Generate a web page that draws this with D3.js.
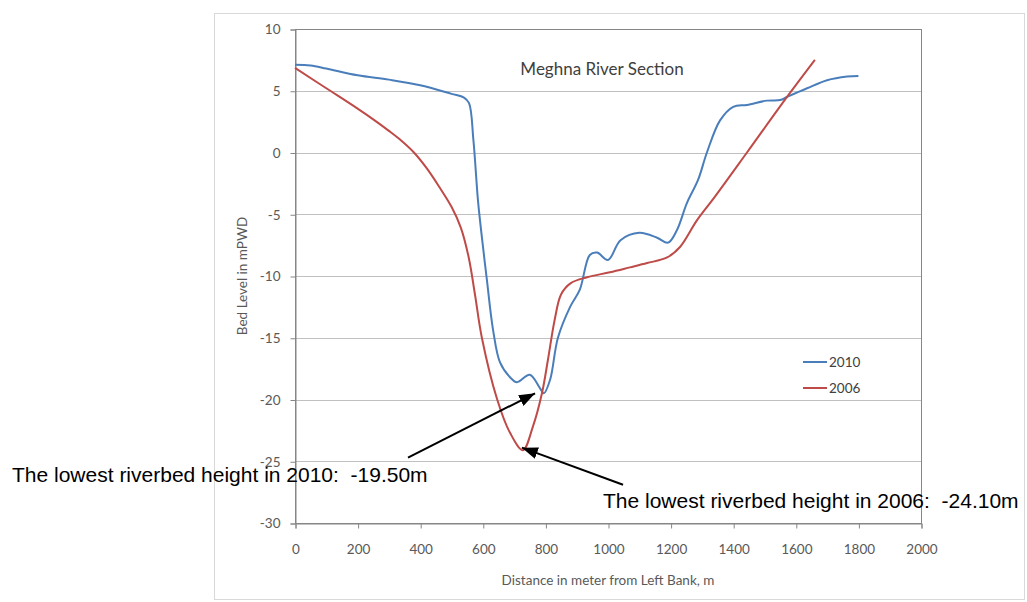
<!DOCTYPE html>
<html>
<head>
<meta charset="utf-8">
<script src="https://cdn.jsdelivr.net/npm/d3@7"></script>
<style>
  body { margin: 0; background: #fff; }
</style>
</head>
<body>
<div id="canvas"></div>
<script>
// Meghna River Section - bed level in 2010 and 2006

const dist2010 = [0, 50, 100, 200, 300, 400, 500, 540, 556, 570, 585, 600, 613, 633, 655, 687, 709, 750, 783, 795, 815, 840, 879, 910, 942, 965, 1000, 1040, 1100, 1157, 1192, 1220, 1252, 1288, 1316, 1358, 1400, 1444, 1508, 1550, 1572, 1636, 1700, 1764, 1800];
const level2010 = [7.1, 7.05, 6.8, 6.25, 5.9, 5.45, 4.75, 4.45, 4.0, 1.0, -4.0, -7.5, -10.3, -14.4, -17.0, -18.2, -18.6, -18.0, -19.1, -19.5, -18.4, -15.0, -12.5, -11.1, -8.3, -8.1, -8.7, -7.1, -6.5, -6.9, -7.3, -6.3, -4.1, -2.2, 0.0, 2.6, 3.7, 3.85, 4.2, 4.25, 4.5, 5.2, 5.85, 6.15, 6.2];

const dist2006 = [0, 100, 200, 260, 300, 340, 380, 420, 460, 500, 530, 555, 575, 597, 646, 687, 728, 760, 789, 808, 830, 850, 880, 933, 1006, 1070, 1125, 1189, 1230, 1284, 1335, 1444, 1572, 1661];
const level2006 = [6.85, 5.2, 3.55, 2.5, 1.75, 0.95, 0.0, -1.25, -2.75, -4.4, -6.1, -8.5, -11.5, -15.0, -20.0, -22.7, -24.1, -22.2, -19.5, -16.8, -13.5, -11.5, -10.6, -10.1, -9.7, -9.3, -8.95, -8.5, -7.65, -5.5, -3.8, 0.0, 4.5, 7.5];

const seriesNames = ["2010", "2006"];
const seriesColors = ["#4a7ebb", "#be4b48"];

const xTicks = [0, 200, 400, 600, 800, 1000, 1200, 1400, 1600, 1800, 2000];
const yTicks = [10, 5, 0, -5, -10, -15, -20, -25, -30];

const chartTitle = "Meghna River Section";
const xTitle = "Distance in meter from Left Bank, m";
const yTitle = "Bed Level in mPWD";

// annotations: arrow from (x0,y0) to (x1,y1) in data units
const noteTexts = ["The lowest riverbed height in 2010:  -19.50m", "The lowest riverbed height in 2006:  -24.10m"];
const noteArrows = [
    { x0: 361, y0: -24.7, x1: 767, y1: -19.5 },
    { x0: 1048, y0: -26.9, x1: 725, y1: -23.9 }
];

const width = 1027;
const height = 602;
const plot = { left: 295, right: 921, top: 29, bottom: 523 };

const svg = d3.select("#canvas").append("svg")
    .attr("width", width)
    .attr("height", height)
    .style("display", "block");

// outer chart frame
svg.append("rect")
    .attr("x", 214.5)
    .attr("y", 13.5)
    .attr("width", 810)
    .attr("height", 586)
    .attr("fill", "#fff")
    .attr("stroke", "#d9d9d9");

const x = d3.scaleLinear()
    .domain([0, 2000])
    .range([plot.left, plot.right]);

const y = d3.scaleLinear()
    .domain([-30, 10])
    .range([plot.bottom, plot.top]);

// gridlines
svg.append("g")
    .selectAll("line")
    .data(yTicks)
    .join("line")
    .attr("x1", plot.left)
    .attr("x2", plot.right)
    .attr("y1", d => Math.round(y(d)) + 0.5)
    .attr("y2", d => Math.round(y(d)) + 0.5)
    .attr("stroke", "#c0c0c0");

// plot area border
svg.append("rect")
    .attr("x", plot.left + 0.5)
    .attr("y", Math.round(y(10)) + 0.5)
    .attr("width", plot.right - plot.left)
    .attr("height", Math.round(y(-30)) - Math.round(y(10)))
    .attr("fill", "none")
    .attr("stroke", "#868686");

const tickFont = "Lato, 'Open Sans', sans-serif";

// y axis
const yAxis = svg.append("g")
    .attr("transform", `translate(${plot.left + 0.5},0.5)`)
    .call(d3.axisLeft(y).tickValues(yTicks).tickSize(5).tickPadding(10).tickFormat(d => String(d)));
yAxis.select(".domain").attr("stroke", "#868686");
yAxis.selectAll(".tick line").attr("stroke", "#868686");
yAxis.selectAll("text")
    .style("font-family", tickFont)
    .style("font-size", "13.5px")
    .attr("fill", "#595959");

// x axis
const xAxis = svg.append("g")
    .attr("transform", `translate(0.5,${Math.round(y(-30)) + 0.5})`)
    .call(d3.axisBottom(x).tickValues(xTicks).tickSize(5).tickPadding(16).tickFormat(d => String(d)));
xAxis.select(".domain").attr("stroke", "#868686");
xAxis.selectAll(".tick line").attr("stroke", "#868686");
xAxis.selectAll("text")
    .style("font-family", tickFont)
    .style("font-size", "13.5px")
    .attr("fill", "#595959");

// axis titles
svg.append("text")
    .attr("x", (plot.left + plot.right) / 2)
    .attr("y", 585)
    .attr("text-anchor", "middle")
    .style("font-family", tickFont)
    .style("font-size", "13.5px")
    .attr("fill", "#595959")
    .text(xTitle);

svg.append("text")
    .attr("transform", `translate(247,276) rotate(-90)`)
    .attr("text-anchor", "middle")
    .style("font-family", tickFont)
    .style("font-size", "13.5px")
    .attr("fill", "#595959")
    .text(yTitle);

// chart title
svg.append("text")
    .attr("x", 602)
    .attr("y", 75)
    .attr("text-anchor", "middle")
    .style("font-family", tickFont)
    .style("font-size", "17px")
    .attr("fill", "#404040")
    .text(chartTitle);

// lines
const line = d3.line()
    .x(d => x(d[0]))
    .y(d => y(d[1]))
    .curve(d3.curveCatmullRom.alpha(0.5));

const series = [
    d3.zip(dist2010, level2010),
    d3.zip(dist2006, level2006)
];

svg.append("g")
    .selectAll("path")
    .data(series)
    .join("path")
    .attr("d", line)
    .attr("fill", "none")
    .attr("stroke", (d, i) => seriesColors[i])
    .attr("stroke-width", 2)
    .attr("stroke-linejoin", "round");

// legend
const legend = svg.append("g")
    .selectAll("g")
    .data(seriesNames)
    .join("g")
    .attr("transform", (d, i) => `translate(803,${362 + i * 26})`);

legend.append("line")
    .attr("x1", 0)
    .attr("x2", 24)
    .attr("stroke", (d, i) => seriesColors[i])
    .attr("stroke-width", 2);

legend.append("text")
    .attr("x", 26)
    .attr("dy", "0.35em")
    .style("font-family", tickFont)
    .style("font-size", "13.5px")
    .attr("fill", "#404040")
    .text(d => d);

// annotations
svg.append("defs").append("marker")
    .attr("id", "arrow")
    .attr("markerUnits", "userSpaceOnUse")
    .attr("viewBox", "0 0 16 12")
    .attr("refX", 16)
    .attr("refY", 6)
    .attr("markerWidth", 16)
    .attr("markerHeight", 12)
    .attr("orient", "auto")
    .append("path")
    .attr("d", "M0,0 L16,6 L0,12 Z")
    .attr("fill", "#000");

svg.append("g")
    .selectAll("line")
    .data(noteArrows)
    .join("line")
    .attr("x1", d => x(d.x0))
    .attr("y1", d => y(d.y0))
    .attr("x2", d => x(d.x1))
    .attr("y2", d => y(d.y1))
    .attr("stroke", "#000")
    .attr("stroke-width", 2)
    .attr("marker-end", "url(#arrow)");

const notePos = [[12, 482], [603, 508]];

svg.append("g")
    .selectAll("text")
    .data(noteTexts)
    .join("text")
    .attr("x", (d, i) => notePos[i][0])
    .attr("y", (d, i) => notePos[i][1])
    .style("font-family", "'Liberation Sans', Arial, sans-serif")
    .style("font-size", "21px")
    .style("white-space", "pre")
    .attr("fill", "#000")
    .text(d => d);
</script>
</body>
</html>
